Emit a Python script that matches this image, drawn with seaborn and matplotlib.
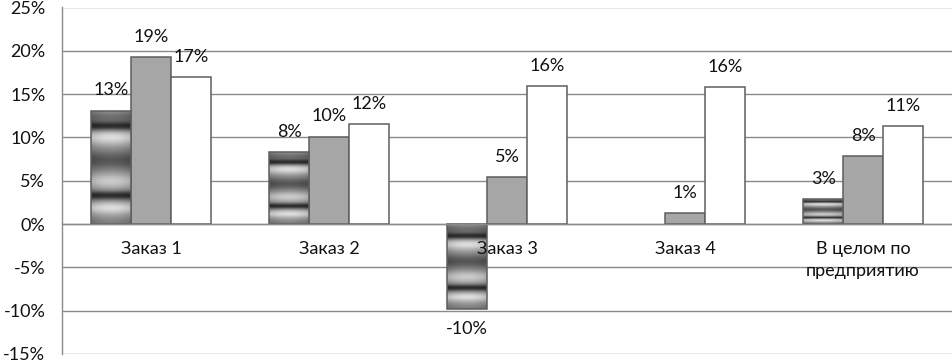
import numpy as np
import pandas as pd
import matplotlib
matplotlib.use("Agg")
import matplotlib.pyplot as plt
import seaborn as sns

categories = ["Заказ 1", "Заказ 2", "Заказ 3", "Заказ 4", "В целом по\nпредприятию"]
series_names = ["Ряд 1", "Ряд 2", "Ряд 3"]
series1 = [13.1, 8.3, -9.8, 0.0, 2.9]
series2 = [19.3, 10.1, 5.4, 1.3, 7.8]
series3 = [17.0, 11.5, 15.9, 15.8, 11.3]
y_ticks = [-15, -10, -5, 0, 5, 10, 15, 20, 25]

df = pd.DataFrame({
    "cat": categories * 3,
    "series": sum([[s] * len(categories) for s in series_names], []),
    "value": series1 + series2 + series3,
})

sns.set_style("white")
plt.rcParams["font.family"] = ["Lato", "DejaVu Sans"]

GRID = "#8a8a8a"
EDGE = "#5e5e5e"
TXT = "#111111"
FS = 13

fig = plt.figure(figsize=(9.53, 3.6), dpi=100)
ax = fig.add_axes([62 / 953, 1 - 354 / 360, 890 / 953, (354 - 7.5) / 360])

sns.barplot(data=df, x="cat", y="value", hue="series", order=categories,
            hue_order=series_names, palette=["#9a9a9a", "#a6a6a6", "#ffffff"],
            width=0.67, ax=ax, legend=False, zorder=3, errorbar=None)

for cont in ax.containers:
    for p in cont.patches:
        p.set_edgecolor(EDGE)
        p.set_linewidth(1.1)

# textured fill for the first series
ny = 300
t = np.linspace(0, 1, ny)
prof = 0.62 + 0.0 * t
prof = prof - 0.18 * np.exp(-((t - 0.06) / 0.05) ** 2)
prof = prof - 0.45 * np.exp(-((t - 0.14) / 0.04) ** 2)
prof = prof + 0.25 * np.exp(-((t - 0.24) / 0.06) ** 2)
prof = prof - 0.28 * np.exp(-((t - 0.44) / 0.09) ** 2)
prof = prof + 0.18 * np.exp(-((t - 0.62) / 0.06) ** 2)
prof = prof - 0.45 * np.exp(-((t - 0.75) / 0.04) ** 2)
prof = prof + 0.25 * np.exp(-((t - 0.86) / 0.05) ** 2)
prof = prof - 0.12 * np.exp(-((t - 1.0) / 0.06) ** 2)
prof = np.clip(prof, 0.12, 0.95)
nx = 40
xs = np.linspace(-1, 1, nx)
hshade = 1 - 0.15 * xs ** 2
img = np.clip(prof[:, None] * hshade[None, :], 0, 1)

for p in ax.containers[0].patches:
    h = p.get_height()
    if abs(h) < 1e-9:
        p.set_visible(False)
        continue
    x0, y0, w = p.get_x(), p.get_y(), p.get_width()
    ylo, yhi = min(y0, y0 + h), max(y0, y0 + h)
    im = ax.imshow(img, extent=[x0, x0 + w, ylo, yhi], aspect="auto",
                   cmap="gray", vmin=0, vmax=1, zorder=3.5, interpolation="bilinear")
    im.set_clip_path(p)
    p.set_facecolor("none")
    p.set_zorder(4)

# value labels
for cont in ax.containers:
    for p in cont.patches:
        h = p.get_height()
        if abs(h) < 1e-9:
            continue
        cx = p.get_x() + p.get_width() / 2
        top = max(p.get_y(), p.get_y() + h)
        bot = min(p.get_y(), p.get_y() + h)
        if h >= 0:
            ax.annotate(f"{round(h):d}%", (cx, top), xytext=(0, 14.5),
                        textcoords="offset points", ha="center", va="center",
                        fontsize=FS, color=TXT, zorder=6)
        else:
            ax.annotate(f"{round(h):d}%", (cx, bot), xytext=(0, -14.5),
                        textcoords="offset points", ha="center", va="center",
                        fontsize=FS, color=TXT, zorder=6)

# category labels (drawn over bars)
for i, c in enumerate(categories):
    ax.annotate(c, (i, 0), xytext=(0, -12), textcoords="offset points",
                ha="center", va="top", fontsize=FS, color=TXT, zorder=7,
                linespacing=1.45, annotation_clip=False)

ax.set_ylim(-15, 25)
ax.set_xlim(-0.5, 4.5)
ax.set_yticks(y_ticks)
ax.set_yticklabels([f"{v}%" for v in y_ticks], fontsize=FS, color=TXT)
ax.yaxis.grid(True, color=GRID, linewidth=1.0, zorder=0)
ax.set_axisbelow(True)

ax.spines["top"].set_visible(False)
ax.spines["right"].set_visible(False)
ax.spines["left"].set_color(GRID)
ax.spines["left"].set_linewidth(1.0)
ax.spines["bottom"].set_position(("data", 0))
ax.spines["bottom"].set_color(GRID)
ax.spines["bottom"].set_linewidth(1.0)
ax.spines["bottom"].set_zorder(5)

ax.set_xticks([-0.5, 0.5, 1.5, 2.5, 3.5, 4.5])
ax.set_xticklabels([""] * 6)
ax.tick_params(axis="x", which="major", direction="out", length=4, color=GRID, width=1)
ax.tick_params(axis="y", direction="out", length=5, color=GRID, width=1, pad=7)
ax.set_xlabel("")
ax.set_ylabel("")

fig.savefig("out.png", dpi=100)
